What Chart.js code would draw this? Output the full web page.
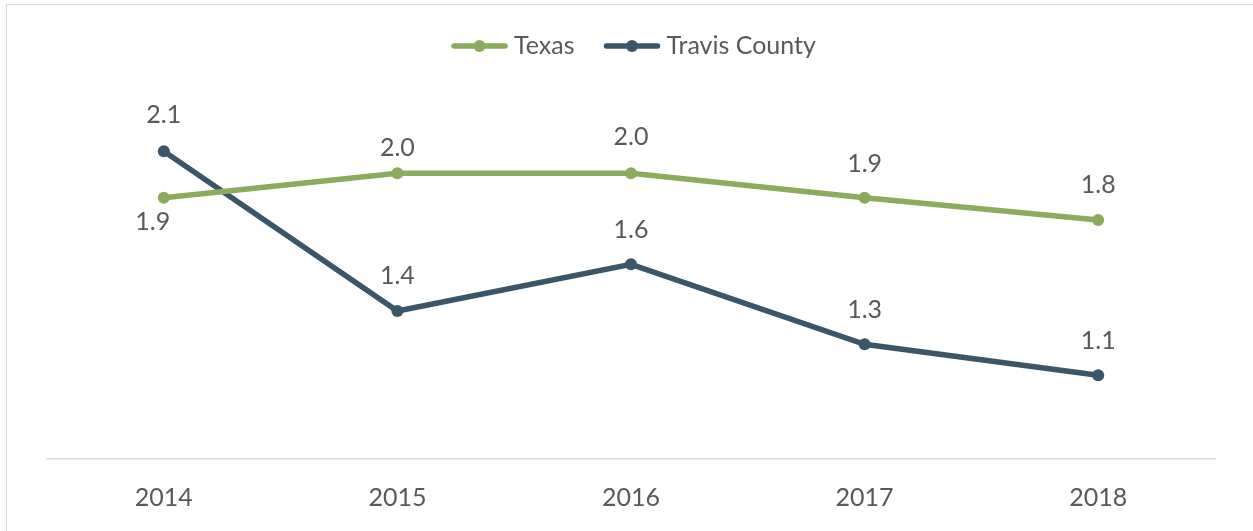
<!DOCTYPE html>
<html>
<head>
<meta charset="utf-8">
<script src="https://cdn.jsdelivr.net/npm/chart.js@4.4.1/dist/chart.umd.min.js"></script>
<style>
  html, body { margin: 0; padding: 0; background: #ffffff; overflow: hidden; }
  #frame { position: absolute; left: 6px; top: 4px; width: 1400px; height: 700px; border: 1.5px solid #d9d9d9; box-sizing: border-box; }
  #wrap { position: absolute; left: 0; top: 0; width: 1253px; height: 531px; }
</style>
</head>
<body>
<div id="frame"></div>
<div id="wrap"><canvas id="c" width="1253" height="531"></canvas></div>
<script>
// ---- data ----
const years = ['2014', '2015', '2016', '2017', '2018'];
const texasValues = [1.91, 2.02, 2.02, 1.91, 1.81];
const travisValues = [2.12, 1.40, 1.61, 1.25, 1.11];
const seriesNames = ['Texas', 'Travis County'];

// ---- styling / label placement (not data) ----
const FONT = 'Lato, "Open Sans", sans-serif';
const textColor = '#595959';
const colors = ['#8cab5c', '#3b5569'];
// per-point label offsets [dx, dy] relative to the point
const labelOffsets = [
  [[-11, 24], [0, -25], [0, -36], [0, -34], [0, -35]],
  [[0, -36], [0, -35], [0, -34], [0, -34], [0, -34]]
];

const valueLabels = {
  id: 'valueLabels',
  afterDatasetsDraw(chart) {
    const ctx = chart.ctx;
    ctx.save();
    ctx.font = '25px ' + FONT;
    ctx.fillStyle = textColor;
    ctx.textAlign = 'center';
    ctx.textBaseline = 'middle';
    chart.data.datasets.forEach((ds, di) => {
      const meta = chart.getDatasetMeta(di);
      meta.data.forEach((pt, i) => {
        const off = labelOffsets[di][i];
        ctx.fillText(ds.data[i].toFixed(1), pt.x + off[0], pt.y + off[1]);
      });
    });
    ctx.restore();
  }
};

const lineLegend = {
  id: 'lineLegend',
  afterDraw(chart) {
    const ctx = chart.ctx;
    const ca = chart.chartArea;
    ctx.save();
    ctx.font = '25px ' + FONT;
    const lineLen = 55, gap = 7, itemGap = 30, cy = 46;
    const items = chart.data.datasets.map(ds => ({ label: ds.label, color: ds.borderColor, w: ctx.measureText(ds.label).width }));
    let total = 0;
    items.forEach((it, i) => { total += lineLen + gap + it.w + (i ? itemGap : 0); });
    let x = (ca.left + ca.right) / 2 - total / 2 + 3;
    items.forEach((it) => {
      ctx.strokeStyle = it.color;
      ctx.lineWidth = 5.5;
      ctx.lineCap = 'round';
      ctx.beginPath();
      ctx.moveTo(x + 2, cy);
      ctx.lineTo(x + lineLen - 2, cy);
      ctx.stroke();
      ctx.fillStyle = it.color;
      ctx.beginPath();
      ctx.arc(x + lineLen / 2, cy, 6, 0, Math.PI * 2);
      ctx.fill();
      ctx.fillStyle = textColor;
      ctx.textAlign = 'left';
      ctx.textBaseline = 'middle';
      ctx.fillText(it.label, x + lineLen + gap, cy);
      x += lineLen + gap + it.w + itemGap;
    });
    ctx.restore();
  }
};

new Chart(document.getElementById('c'), {
  type: 'line',
  data: {
    labels: years,
    datasets: [
      { label: seriesNames[0], data: texasValues, borderColor: colors[0], backgroundColor: colors[0],
        borderWidth: 5.5, pointRadius: 6, pointHoverRadius: 6, pointBorderWidth: 0, tension: 0 },
      { label: seriesNames[1], data: travisValues, borderColor: colors[1], backgroundColor: colors[1],
        borderWidth: 5.5, pointRadius: 6, pointHoverRadius: 6, pointBorderWidth: 0, tension: 0 }
    ]
  },
  options: {
    responsive: false,
    animation: false,
    devicePixelRatio: 1,
    layout: { padding: { left: 47, right: 38, top: 89, bottom: 0 } },
    plugins: { legend: { display: false }, tooltip: { enabled: false }, title: { display: false } },
    scales: {
      x: {
        offset: true,
        grid: { display: false, drawTicks: false },
        border: { display: true, color: '#d9d9d9', width: 1.5 },
        ticks: { color: textColor, font: { family: FONT, size: 25 }, padding: 24 },
        afterFit(scale) { scale.height = 72; }
      },
      y: {
        display: false,
        min: 0.733,
        max: 2.4
      }
    }
  },
  plugins: [valueLabels, lineLegend]
});
</script>
</body>
</html>
